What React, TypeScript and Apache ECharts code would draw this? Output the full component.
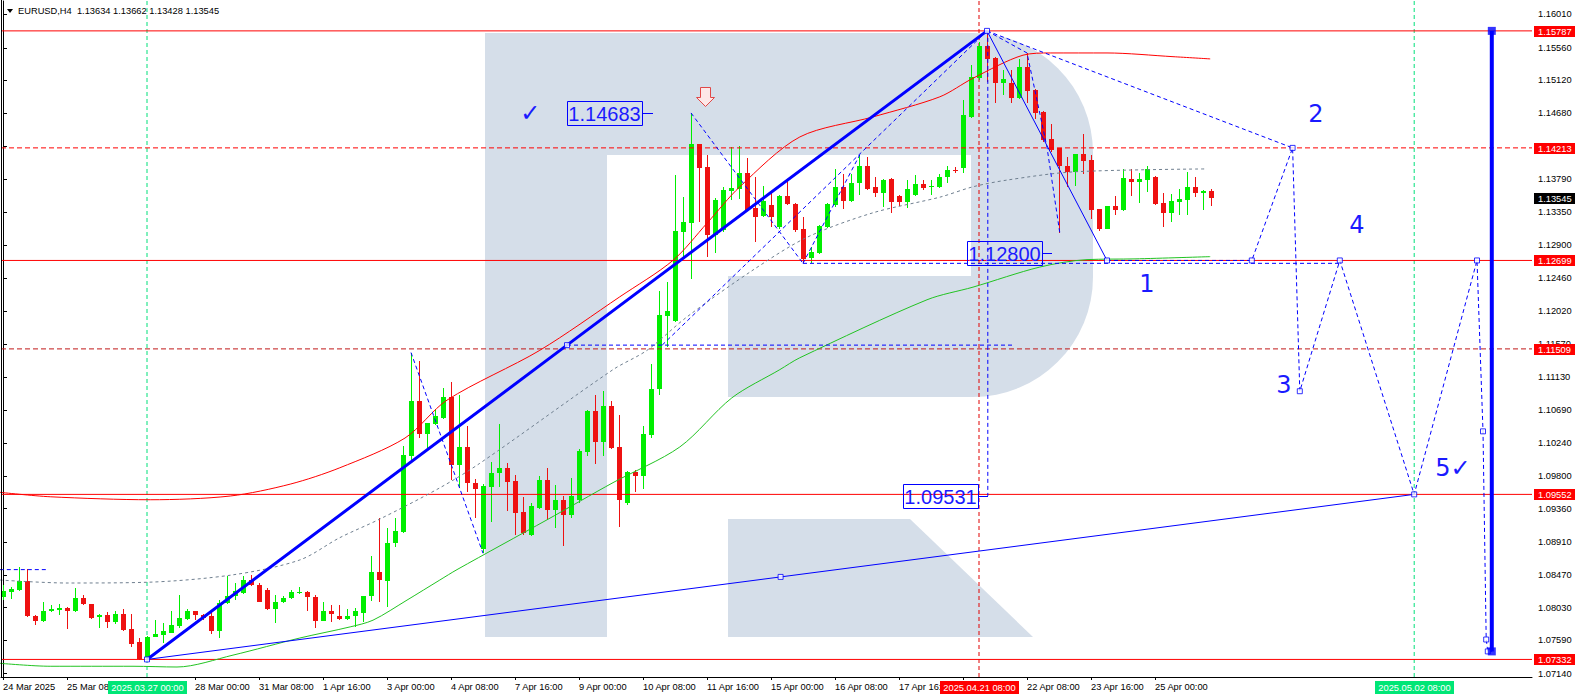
import React, { useEffect, useRef } from "react";
import * as echarts from "echarts";

// ---------- DATA ----------
const OPEN = [1.0817,1.0824,1.0827,1.0839,1.0792,1.0785,1.0798,1.0800,1.0803,1.0798,1.0816,1.0808,1.0790,1.0793,1.0783,1.0794,1.0774,1.0756,1.0735,1.0764,1.0766,1.0769,1.0778,1.0787,1.0798,1.0793,1.0791,1.0772,1.0809,1.0818,1.0822,1.0840,1.0833,1.0827,1.0801,1.0810,1.0816,1.0823,1.0824,1.0817,1.0785,1.0799,1.0792,1.0787,1.0791,1.0796,1.0818,1.0851,1.0839,1.0890,1.0905,1.1007,1.1081,1.1036,1.1050,1.1058,1.1086,1.0995,1.1019,1.0971,1.0882,1.0965,1.0984,1.0991,1.0973,1.0932,1.0901,1.0937,1.0975,1.0934,1.0948,1.0928,1.0948,1.1012,1.1067,1.1026,1.1074,1.1019,1.0944,1.0985,1.0980,1.1035,1.1097,1.1195,1.1188,1.1308,1.1320,1.1427,1.1396,1.1304,1.1311,1.1363,1.1366,1.1388,1.1340,1.1330,1.1345,1.1315,1.1357,1.1346,1.1312,1.1273,1.1280,1.1315,1.1345,1.1369,1.1350,1.1374,1.1397,1.1369,1.1361,1.1379,1.1357,1.1349,1.1358,1.1373,1.1369,1.1369,1.1382,1.1392,1.1394,1.1463,1.1515,1.1558,1.1542,1.1509,1.1509,1.1488,1.1530,1.1499,1.1470,1.1433,1.1421,1.1397,1.1389,1.1413,1.1405,1.1339,1.1312,1.1343,1.1338,1.1379,1.1375,1.1378,1.1382,1.1347,1.1334,1.1349,1.1351,1.1369,1.1361,1.13634];
const CLOSE = [1.0825,1.0828,1.0839,1.0792,1.0785,1.0798,1.0801,1.0802,1.0799,1.0816,1.0808,1.0789,1.0793,1.0783,1.0794,1.0773,1.0754,1.0734,1.0764,1.0767,1.0771,1.0780,1.0789,1.0798,1.0793,1.0789,1.0772,1.0809,1.0819,1.0825,1.0840,1.0833,1.0811,1.0801,1.0811,1.0816,1.0824,1.0824,1.0817,1.0785,1.0799,1.0794,1.0788,1.0792,1.0798,1.0819,1.0851,1.0840,1.0890,1.0906,1.1008,1.1081,1.1036,1.1051,1.1060,1.1086,1.0995,1.1019,1.0971,1.0962,1.0967,1.0984,1.0991,1.0972,1.0930,1.0903,1.0940,1.0975,1.0934,1.0948,1.0928,1.0953,1.1014,1.1067,1.1026,1.1074,1.1018,1.0948,1.0985,1.0980,1.1036,1.1097,1.1197,1.1202,1.1310,1.1322,1.1427,1.1394,1.1304,1.1351,1.1365,1.1367,1.1388,1.1338,1.1328,1.1350,1.1328,1.1357,1.1346,1.1311,1.1272,1.1281,1.1316,1.1346,1.1369,1.1350,1.1374,1.1397,1.1366,1.1361,1.1378,1.1349,1.1349,1.1366,1.1373,1.1367,1.1370,1.1382,1.1392,1.1390,1.1466,1.1517,1.1558,1.1541,1.1509,1.1514,1.1488,1.1530,1.1498,1.1468,1.1432,1.1418,1.1397,1.1389,1.1413,1.1404,1.1338,1.1312,1.1343,1.1338,1.1381,1.1375,1.1379,1.1393,1.1346,1.1334,1.1350,1.1353,1.1369,1.1361,1.1363,1.13545];
const HIGH = [1.0833,1.0831,1.0858,1.0855,1.0793,1.0811,1.0806,1.0808,1.0804,1.0829,1.0820,1.0808,1.0794,1.0797,1.0798,1.0801,1.0794,1.0762,1.0765,1.0786,1.0782,1.0799,1.0820,1.0801,1.0799,1.0794,1.0798,1.0813,1.0845,1.0836,1.0845,1.0847,1.0836,1.0829,1.0820,1.0818,1.0827,1.0830,1.0825,1.0820,1.0811,1.0806,1.0806,1.0801,1.0802,1.0819,1.0872,1.0923,1.0910,1.0923,1.1020,1.1146,1.1135,1.1051,1.1070,1.1098,1.1106,1.1089,1.1047,1.0976,1.0969,1.0999,1.1050,1.0997,1.0981,1.0952,1.0944,1.0980,1.0991,1.0968,1.0953,1.0977,1.1016,1.1069,1.1089,1.1094,1.1081,1.1062,1.0987,1.0988,1.1047,1.1131,1.1229,1.1241,1.1385,1.1355,1.14683,1.1427,1.1412,1.1354,1.1369,1.1422,1.1424,1.1408,1.1382,1.1370,1.1361,1.1358,1.1378,1.1347,1.1328,1.1288,1.1317,1.1347,1.1393,1.1386,1.1386,1.1412,1.1409,1.1382,1.1379,1.1381,1.1358,1.1378,1.1385,1.1378,1.1378,1.1386,1.1397,1.1396,1.1486,1.1533,1.1564,1.15787,1.1544,1.1526,1.1526,1.1541,1.1549,1.1500,1.1471,1.1453,1.1421,1.1409,1.1413,1.1440,1.1412,1.1339,1.1343,1.1356,1.1393,1.1393,1.1388,1.1397,1.1384,1.1361,1.1359,1.1366,1.1389,1.1382,1.1365,1.13662];
const LOW = [1.0813,1.0815,1.0825,1.0790,1.0780,1.0783,1.0797,1.0793,1.0774,1.0797,1.0806,1.0788,1.0775,1.0775,1.0781,1.0772,1.0750,1.0733,1.07332,1.0763,1.0755,1.0769,1.0775,1.0786,1.0786,1.0786,1.0767,1.0762,1.0808,1.0813,1.0821,1.0832,1.0810,1.0800,1.0782,1.0809,1.0815,1.0821,1.0798,1.0775,1.0785,1.0783,1.0786,1.0786,1.0777,1.0784,1.0812,1.0810,1.0804,1.0885,1.0903,1.1002,1.1031,1.1015,1.1049,1.1057,1.0975,1.0964,1.0958,1.0923,1.0876,1.0918,1.0965,1.0933,1.0901,1.0901,1.0899,1.0936,1.0921,1.0910,1.0886,1.0923,1.0944,1.1007,1.0996,1.1007,1.1016,1.0911,1.0941,1.0958,1.0963,1.1031,1.1089,1.1154,1.1187,1.1275,1.1245,1.1322,1.1275,1.1280,1.1308,1.1351,1.1353,1.1336,1.1295,1.1328,1.1315,1.1312,1.1345,1.1308,1.1266,1.1267,1.1279,1.1313,1.1342,1.1339,1.1349,1.1358,1.1365,1.1355,1.1342,1.1334,1.1343,1.1340,1.1357,1.1365,1.1358,1.1367,1.1374,1.1388,1.1388,1.1462,1.1513,1.1510,1.1482,1.1492,1.1482,1.1487,1.1482,1.1460,1.1429,1.1416,1.1307,1.1369,1.1370,1.1386,1.1326,1.1310,1.1312,1.1331,1.1336,1.1356,1.1347,1.1362,1.1345,1.1315,1.1322,1.1331,1.1331,1.1355,1.1338,1.13428];

// moving averages: [bar, price]
const RED_MA = [[-0.4,1.0958],[5.9,1.0952],[18.4,1.0948],[28.4,1.0953],[35.9,1.0969],[42.1,1.0991],[50.25,1.1031],[55.5,1.1082],[67.1,1.1149],[77.1,1.1221],[83.75,1.1270],[88,1.1320],[92.1,1.1369],[99.6,1.1436],[108.75,1.1463],[117.1,1.1490],[121.25,1.1515],[127.5,1.1546],[130.9,1.1549],[138,1.1549],[146.25,1.1544],[150.9,1.1541]];
const GRAY_MA = [[-0.4,1.0840],[8,1.0836],[18,1.0837],[28.75,1.0847],[37.1,1.0867],[42.1,1.0897],[47.1,1.0922],[54.6,1.0964],[59.6,1.0997],[76.25,1.1123],[80.5,1.1149],[85.5,1.1194],[93.75,1.1257],[100.5,1.1301],[108.75,1.1334],[117.1,1.1355],[121.25,1.1369],[125.5,1.1378],[133.75,1.1389],[150.5,1.1393]];
const GREEN_MA = [[-0.4,1.0728],[5.9,1.0724],[16.25,1.0724],[21.75,1.0723],[28.75,1.0739],[37.1,1.0762],[43.4,1.0777],[46.25,1.0786],[50.5,1.0813],[54.6,1.0840],[56.75,1.0854],[68,1.0921],[76.25,1.0971],[84.6,1.1019],[91.1,1.1085],[97.1,1.1123],[99.6,1.1139],[115.5,1.1217],[121.25,1.1234],[129.6,1.1261],[135.5,1.1271],[141.5,1.1272],[150.9,1.1275]];

// horizontal levels
const SOLID_LEVELS = [1.15787, 1.12699, 1.09552, 1.07332];
const DASHED_LEVELS = [1.14213, 1.11509];
const CURRENT_PRICE = 1.13545;

// axis ticks / labels
const Y_TICKS = [1.0714,1.0759,1.0803,1.0847,1.0891,1.0936,1.0980,1.1024,1.1069,1.1113,1.1157,1.1202,1.1246,1.1290,1.1335,1.1379,1.1424,1.1468,1.1512,1.1556,1.1601];
const TIME_BARS = [0,8,24,32,40,48,56,64,72,80,88,96,104,112,120,128,136,144];
const TIME_LABELS = ["24 Mar 2025","25 Mar 08:00","28 Mar 00:00","31 Mar 08:00","1 Apr 16:00","3 Apr 00:00","4 Apr 08:00","7 Apr 16:00","9 Apr 00:00","10 Apr 08:00","11 Apr 16:00","15 Apr 00:00","16 Apr 08:00","17 Apr 16:00","21 Apr 00:00","22 Apr 08:00","23 Apr 16:00","25 Apr 00:00"];
const MARKED_TIMES = [
  { bar: 18, text: "2025.03.27 00:00", kind: "green" },
  { bar: 122, text: "2025.04.21 08:00", kind: "red" },
  { bar: 176.4, text: "2025.05.02 08:00", kind: "green" },
];

// drawn objects
const MAIN_TREND = [[18,1.07332],[70.5,1.115595],[123,1.15787]];
const BASE_LINE = [[18,1.07332],[97.2,1.08442],[176.4,1.09552]];
const DROP_LINE = [[123,1.15787],[138,1.12699]];
const FORECAST = [[138,1.12699],[156.1,1.12699],[161.2,1.14213],[162.1,1.1094],[167.1,1.12699],[176.4,1.09552],[184.25,1.12699],[185.0,1.1040],[185.4,1.0760],[185.6,1.0744],[186.1,1.0744]];
const DOTTED_PATHS = [
  [[123,1.15787],[161.2,1.14213]],
  [[100,1.1266],[167.1,1.1266]],
  [[86,1.14683],[100,1.1266]],
  [[100,1.1266],[107.1,1.1412]],
  [[82.4,1.1156],[123,1.15787]],
  [[70.5,1.1156],[126.25,1.1156]],
  [[51,1.1146],[60,1.0876]],
  [[-0.4,1.0854],[5.6,1.0854]],
  [[123,1.15787],[128,1.1549],[130.5,1.1422],[132.1,1.1307]],
  [[123.1,1.15787],[123.1,1.09531]],
];
const RANGE_BAR = [[186.1,1.0744],[186.1,1.15787]];
const PRICE_BOXES = [
  { text: "1.14683", rightBar: 79.875, tickBar: 81.25, price: 1.14683 },
  { text: "1.12800", rightBar: 129.9, tickBar: 131.1, price: 1.128 },
  { text: "1.09531", rightBar: 121.9, tickBar: 123.1, price: 1.09531 },
];
const WAVE_LABELS = [
  { text: "2", bar: 164.1, price: 1.1467 },
  { text: "4", bar: 169.25, price: 1.1318 },
  { text: "1", bar: 143, price: 1.1238 },
  { text: "3", bar: 160.1, price: 1.1102 },
  { text: "5\u2713", bar: 181.25, price: 1.0991 },
  { text: "\u2713", bar: 65.9, price: 1.1468 },
];
const ARROW_AT = { bar: 87.75, price: 1.1478 };

// ---------- STYLE ----------
const F = "'Liberation Sans', Arial, sans-serif";
const FS = 9.3;
const BULL = "#00ee00";
const BEAR = "#ee1111";
const BLUE = "#0000ff";
const WM = "#d5dee9";
const SPRING = "#00e07a";
const XMIN = -0.25, XMAX = 191.125, YMIN = 1.070956, YMAX = 1.161889;

function lineS(data: number[][], color: string, width: number, type: any, z = 4, extra: any = {}) {
  return { type: "line", data, symbol: "none", silent: true, animation: false, z,
    lineStyle: { color, width, type }, ...extra };
}

function buildOption(): any {
  const candles = OPEN.map((o, i) => [i, o, CLOSE[i], LOW[i], HIGH[i]]);
  const series: any[] = [];
  series.push({
    type: "custom", z: 2, clip: true, data: candles, encode: { x: 0, y: [1, 2, 3, 4] },
    renderItem: (_p: any, api: any) => {
      const i = api.value(0), o = api.value(1), c = api.value(2), l = api.value(3), h = api.value(4);
      const pO = api.coord([i, o]), pC = api.coord([i, c]), pL = api.coord([i, l]), pH = api.coord([i, h]);
      const x = Math.round(pO[0]);
      const col = c >= o ? BULL : BEAR;
      const top = Math.round(Math.min(pO[1], pC[1])), bot = Math.round(Math.max(pO[1], pC[1]));
      const hy = Math.round(pH[1]), ly = Math.round(pL[1]);
      return { type: "group", children: [
        { type: "rect", shape: { x, y: hy, width: 1, height: Math.max(1, ly - hy) }, style: { fill: col } },
        { type: "rect", shape: { x: x - 2, y: top, width: 5, height: Math.max(1, bot - top) }, style: { fill: col } },
      ] };
    },
  });
  // vertical marker lines
  MARKED_TIMES.forEach((m) => {
    series.push(lineS([[m.bar, YMIN], [m.bar, YMAX]], m.kind === "red" ? "#e00000" : SPRING, 1, [4, 3], 1));
  });
  // horizontal levels
  SOLID_LEVELS.forEach((p) => series.push(lineS([[XMIN, p], [XMAX, p]], "#ff0000", 1, "solid", 3)));
  series.push(lineS([[XMIN, DASHED_LEVELS[0]], [XMAX, DASHED_LEVELS[0]]], "#ff0000", 1, [5, 3], 3));
  series.push(lineS([[XMIN, DASHED_LEVELS[1]], [XMAX, DASHED_LEVELS[1]]], "#c01818", 1, [5, 3], 3));
  // moving averages
  series.push(lineS(RED_MA, "#ff0000", 1, "solid", 3, { smooth: 0.3 }));
  series.push(lineS(GRAY_MA, "#6f7f8f", 1, [3, 3], 3, { smooth: 0.3 }));
  series.push(lineS(GREEN_MA, "#22c322", 1, "solid", 3, { smooth: 0.3 }));
  // blue objects
  DOTTED_PATHS.forEach((d) => series.push(lineS(d, BLUE, 1, [4, 3], 4)));
  series.push(lineS(FORECAST, BLUE, 1, [4, 3], 4));
  series.push(lineS(BASE_LINE, BLUE, 1, "solid", 4));
  series.push(lineS(DROP_LINE, BLUE, 1, "solid", 4));
  series.push(lineS(MAIN_TREND, BLUE, 3, "solid", 5));
  series.push(lineS(RANGE_BAR, BLUE, 4, "solid", 5));
  const hollow = [...MAIN_TREND, BASE_LINE[1], DROP_LINE[1], ...FORECAST.slice(1, 10)];
  series.push({ type: "scatter", data: hollow, symbol: "rect", symbolSize: 5, silent: true, z: 6,
    itemStyle: { color: "#ffffff", borderColor: BLUE, borderWidth: 1 } });
  series.push({ type: "scatter", data: RANGE_BAR, symbol: "rect", symbolSize: 8, silent: true, z: 6,
    itemStyle: { color: BLUE } });

  return {
    animation: false,
    backgroundColor: "#ffffff",
    grid: { left: 1, right: 46, top: 1, bottom: 21, containLabel: false, outerBoundsMode: "none" },
    xAxis: {
      type: "value", min: XMIN, max: XMAX,
      axisLine: { show: true, onZero: false, lineStyle: { color: "#000", width: 1 } },
      axisTick: { show: true, customValues: TIME_BARS, length: 3, lineStyle: { color: "#000" } },
      axisLabel: { show: true, customValues: TIME_BARS, align: "left", margin: 4, color: "#000",
        fontSize: FS, fontFamily: F, lineHeight: 11,
        formatter: (v: number) => { const k = TIME_BARS.indexOf(Math.round(v)); return k >= 0 ? TIME_LABELS[k] : ""; } },
      splitLine: { show: false },
    },
    yAxis: {
      type: "value", position: "right", min: YMIN, max: YMAX, scale: true,
      axisLine: { show: true, lineStyle: { color: "#000", width: 1 } },
      axisTick: { show: true, customValues: Y_TICKS, length: 4, lineStyle: { color: "#000" } },
      axisLabel: { show: true, customValues: Y_TICKS, margin: 6, color: "#000", fontSize: FS, fontFamily: F,
        formatter: (v: number) => v.toFixed(5) },
      splitLine: { show: false },
    },
    series,
  };
}

function buildGraphics(px: (b: number, p: number) => number[]): any[] {
  const g: any[] = [];
  // watermark logo
  const wm = (shape: any, fill = WM, r?: any) => g.push({ type: "rect", silent: true, z: 0,
    shape: r ? { ...shape, r } : shape, style: { fill } });
  wm({ x: 485, y: 33, width: 122, height: 604 });
  wm({ x: 485, y: 33, width: 243, height: 122 });
  wm({ x: 728, y: 33, width: 365, height: 364 }, WM, [0, 120, 120, 0]);
  wm({ x: 728, y: 155, width: 243, height: 121 }, "#ffffff");
  g.push({ type: "polygon", silent: true, z: 0, shape: { points: [[728, 519], [910, 519], [1033, 637], [728, 637]] }, style: { fill: WM } });

  // left border
  g.push({ type: "line", silent: true, z: 20, shape: { x1: 1.5, y1: 0, x2: 1.5, y2: 677 }, style: { stroke: "#000", lineWidth: 1 } });

  // header
  g.push({ type: "polygon", silent: true, z: 30, shape: { points: [[7, 9], [13, 9], [10, 13]] }, style: { fill: "#000" } });
  g.push({ type: "text", silent: true, z: 30, x: 18, y: 11,
    style: { text: "EURUSD,H4  1.13634 1.13662 1.13428 1.13545", fill: "#000", fontSize: FS, fontFamily: F, verticalAlign: "middle" } });

  // right axis price boxes
  const boxes: [number, string][] = [...SOLID_LEVELS.map((p) => [p, "#ff0000"] as [number, string]),
    ...DASHED_LEVELS.map((p) => [p, "#ff0000"] as [number, string]), [CURRENT_PRICE, "#000000"]];
  boxes.forEach(([p, col]) => {
    const y = Math.round(px(0, p)[1]);
    g.push({ type: "rect", silent: true, z: 40, shape: { x: 1534, y: y - 5, width: 41, height: 11 }, style: { fill: col } });
    g.push({ type: "text", silent: true, z: 41, x: 1538, y: y + 0.5,
      style: { text: p.toFixed(5), fill: "#ffffff", fontSize: FS, fontFamily: F, verticalAlign: "middle" } });
  });

  // marked time boxes on x axis
  MARKED_TIMES.forEach((m) => {
    const x = px(m.bar, YMIN)[0];
    g.push({ type: "rect", silent: true, z: 40, shape: { x: Math.round(x) - 39, y: 681, width: 79, height: 13 },
      style: { fill: m.kind === "red" ? "#ff0000" : "#00e676" } });
    g.push({ type: "text", silent: true, z: 41, x: Math.round(x) + 0.5, y: 687.5,
      style: { text: m.text, fill: "#ffffff", fontSize: FS, fontFamily: F, align: "center", verticalAlign: "middle" } });
  });

  // price boxes in the plot
  PRICE_BOXES.forEach((b) => {
    const [xr, y] = px(b.rightBar, b.price);
    const xt = px(b.tickBar, b.price)[0];
    g.push({ type: "rect", silent: true, z: 30, shape: { x: Math.round(xr) - 75 + 0.5, y: Math.round(y) - 12 + 0.5, width: 75, height: 24 },
      style: { fill: "none", stroke: BLUE, lineWidth: 1 } });
    g.push({ type: "line", silent: true, z: 30, shape: { x1: Math.round(xr), y1: Math.round(y) + 0.5, x2: Math.round(xt), y2: Math.round(y) + 0.5 },
      style: { stroke: BLUE, lineWidth: 1 } });
    g.push({ type: "text", silent: true, z: 31, x: Math.round(xr) - 37.5, y: Math.round(y) + 1,
      style: { text: b.text, fill: "#1a1aff", fontSize: 20, fontFamily: F, align: "center", verticalAlign: "middle" } });
  });

  // wave labels
  WAVE_LABELS.forEach((w) => {
    const [x, y] = px(w.bar, w.price);
    g.push({ type: "text", silent: true, z: 31, x, y,
      style: { text: w.text, fill: "#1a1aff", fontSize: 24, fontFamily: "'DejaVu Sans', 'Liberation Sans', sans-serif", align: "center", verticalAlign: "middle" } });
  });

  // red hollow arrow
  const [ax, ay] = px(ARROW_AT.bar, ARROW_AT.price);
  const pts = [[-5, -19], [5, -19], [5, -9], [9, -9], [0, 0], [-9, -9], [-5, -9]].map(([dx, dy]) => [Math.round(ax) + dx + 0.5, Math.round(ay) + dy + 0.5]);
  g.push({ type: "polygon", silent: true, z: 31, shape: { points: pts }, style: { fill: "#fde8e8", stroke: "#e04848", lineWidth: 1 } });
  return g;
}

export default function App() {
  const ref = useRef<HTMLDivElement>(null);
  useEffect(() => {
    document.body.style.margin = "0";
    const chart = echarts.init(ref.current!, undefined, { renderer: "svg", width: 1578, height: 698 });
    chart.setOption(buildOption());
    const px = (b: number, p: number) => chart.convertToPixel({ xAxisIndex: 0, yAxisIndex: 0 }, [b, p]) as number[];
    chart.setOption({ graphic: buildGraphics(px) });
    return () => chart.dispose();
  }, []);
  return <div ref={ref} style={{ width: 1578, height: 698 }} />;
}
